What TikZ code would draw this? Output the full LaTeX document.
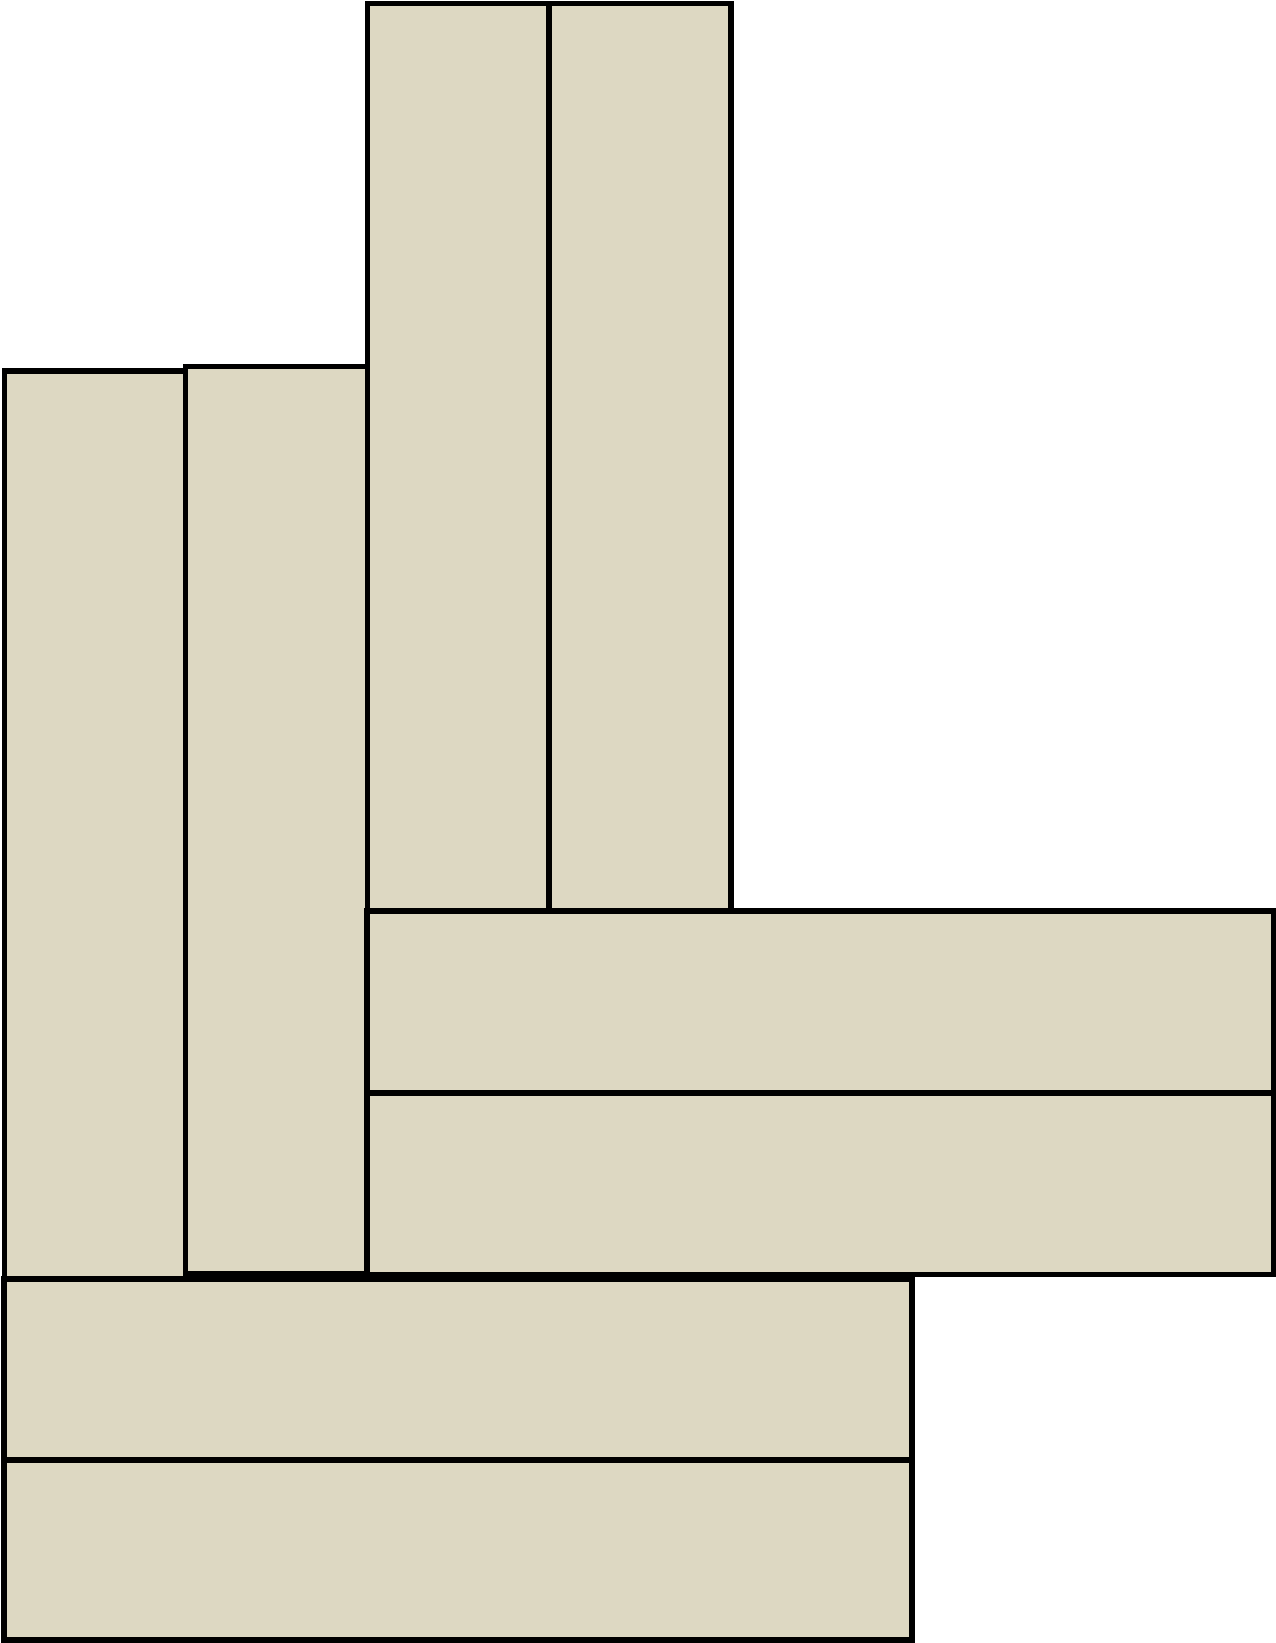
\documentclass[tikz,border=0pt]{standalone}
\usepackage{tikz}
\usetikzlibrary{positioning}

\definecolor{plank}{RGB}{221,216,194}

\begin{document}
\begin{tikzpicture}[
    board/.style={rectangle, draw, fill=plank, line width=0.055cm, inner sep=0pt, outer sep=0pt},
    x=0.01cm, y=-0.01cm
]
\useasboundingbox (0,0) rectangle (1275,1643);
% left pair, standing
\node[board, minimum width=1.81cm, minimum height=9.065cm] (l1) at (95,824.75) {};
\node[board, minimum width=1.82cm, minimum height=9.065cm] (l2) at (276.5,820.25) {};
% top pair, standing
\node[board, minimum width=1.815cm, minimum height=9.07cm] (t1) at (458.25,457.5) {};
\node[board, minimum width=1.82cm, minimum height=9.07cm] (t2) at (640,457.5) {};
% right pair, lying
\node[board, minimum width=9.06cm, minimum height=1.82cm] (h1) at (820.5,1002) {};
\node[board, minimum width=9.06cm, minimum height=1.815cm] (h2) at (820.5,1183.75) {};
% bottom pair, lying
\node[board, minimum width=9.07cm, minimum height=1.81cm] (b1) at (458,1369.5) {};
\node[board, minimum width=9.07cm, minimum height=1.80cm] (b2) at (458,1550) {};
\end{tikzpicture}
\end{document}
